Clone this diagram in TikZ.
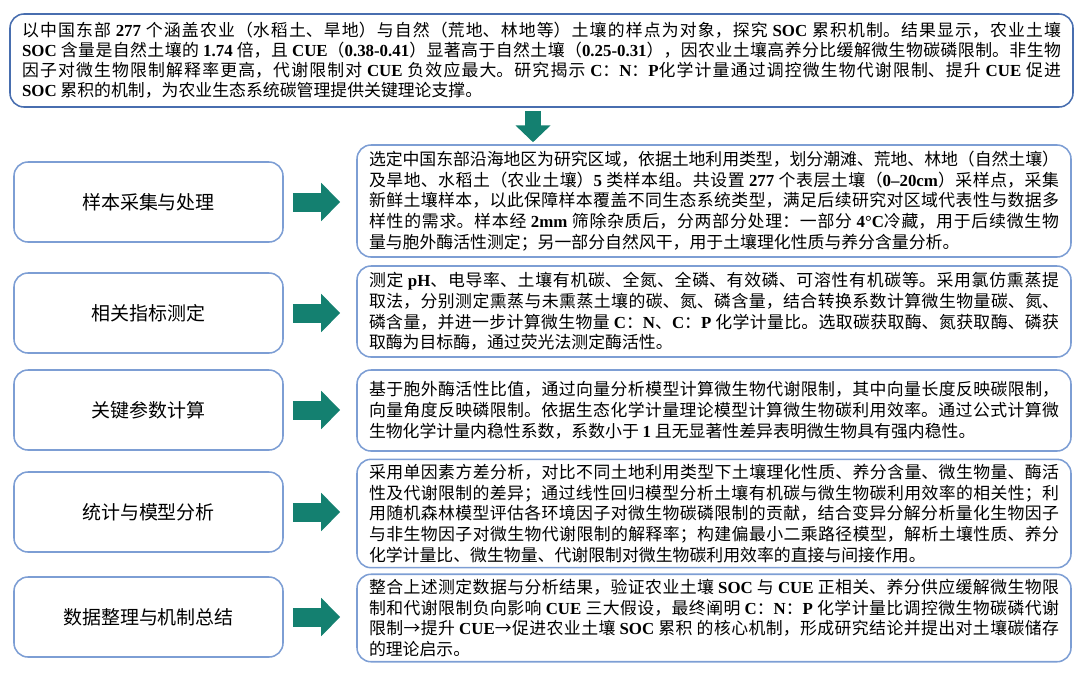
\documentclass[tikz,border=0pt]{standalone}
\usepackage{fontspec}
\setmainfont{Noto Sans CJK SC}
\newfontfamily\tnr{Liberation Serif}
\newcommand{\en}[1]{{\tnr\bfseries #1}}
\XeTeXlinebreaklocale "zh"
\XeTeXlinebreakskip=0pt plus 1.5pt minus 0.3pt
\usepackage{xcolor}
\usepackage{tikz}
\usetikzlibrary{arrows.meta, positioning}
\definecolor{topblue}{RGB}{72,110,175}
\definecolor{boxblue}{RGB}{125,158,212}
\definecolor{arrowteal}{RGB}{20,128,112}

\begin{document}
\begin{tikzpicture}[
  box/.style={draw=boxblue, line width=1.1pt, rounded corners=0.35cm, inner xsep=0.3cm,
    align=justify, font=\fontsize{12}{14.8}\selectfont},
  stepbox/.style={box, align=center, minimum width=6.725cm, minimum height=2cm,
    font=\fontsize{13.5}{16}\selectfont},
  textbox/.style={box, text width=17.25cm},
  arrow/.style={arrowteal, line width=0.475cm, -{Triangle[length=0.475cm,width=0.925cm]},
    shorten <=0.225cm, shorten >=0.4cm},
  downarrow/.style={arrowteal, line width=0.4cm, -{Triangle[length=0.42cm,width=0.85cm]},
    shorten <=0.075cm, shorten >=0.05cm}
]
\useasboundingbox (0,0) rectangle (27,-16.825);

% Nodes
\node[box, draw=topblue, text width=25.975cm, minimum height=2.325cm,
  font=\fontsize{12}{14.2}\selectfont] (top) at (13.5375,-1.5125)
  {以中国东部 \en{277} 个涵盖农业（水稻土、旱地）与自然（荒地、林地等）土壤的样点为对象，探究 \en{SOC} 累积机制。结果显示，农业土壤\linebreak
   \en{SOC} 含量是自然土壤的 \en{1.74} 倍，且 \en{CUE}（\en{0.38-0.41}）显著高于自然土壤（\en{0.25-0.31}），因农业土壤高养分比缓解微生物碳磷限制。非生物\linebreak
   因子对微生物限制解释率更高，代谢限制对 \en{CUE} 负效应最大。研究揭示 \en{C}：\en{N}：\en{P}化学计量通过调控微生物代谢限制、提升 \en{CUE} 促进\linebreak
   \en{SOC} 累积的机制，为农业生态系统碳管理提供关键理论支撑。};

\node[stepbox] (s1) at (3.7125,-5.05) {样本采集与处理};
\node[stepbox] (s2) at (3.7125,-7.825) {相关指标测定};
\node[stepbox] (s3) at (3.7125,-10.25) {关键参数计算};
\node[stepbox] (s4) at (3.7125,-12.8) {统计与模型分析};
\node[stepbox] (s5) at (3.7125,-15.425) {数据整理与机制总结};

\node[textbox, minimum height=2.8cm] (d1) at (17.85,-5.025)
  {选定中国东部沿海地区为研究区域，依据土地利用类型，划分潮滩、荒地、林地（自然土壤）\linebreak
   及旱地、水稻土（农业土壤）\en{5} 类样本组。共设置 \en{277} 个表层土壤（\en{0–20cm}）采样点，采集\linebreak
   新鲜土壤样本，以此保障样本覆盖不同生态系统类型，满足后续研究对区域代表性与数据多\linebreak
   样性的需求。样本经 \en{2mm} 筛除杂质后，分两部分处理：一部分 \en{4°C}冷藏，用于后续微生物\linebreak
   量与胞外酶活性测定；另一部分自然风干，用于土壤理化性质与养分含量分析。};
\node[textbox, minimum height=2.275cm] (d2) at (17.85,-7.7875)
  {测定 \en{pH}、电导率、土壤有机碳、全氮、全磷、有效磷、可溶性有机碳等。采用氯仿熏蒸提\linebreak
   取法，分别测定熏蒸与未熏蒸土壤的碳、氮、磷含量，结合转换系数计算微生物量碳、氮、\linebreak
   磷含量，并进一步计算微生物量 \en{C}：\en{N}、\en{C}：\en{P} 化学计量比。选取碳获取酶、氮获取酶、磷获\linebreak
   取酶为目标酶，通过荧光法测定酶活性。};
\node[textbox, minimum height=2.025cm] (d3) at (17.85,-10.2625)
  {基于胞外酶活性比值，通过向量分析模型计算微生物代谢限制，其中向量长度反映碳限制，\linebreak
   向量角度反映磷限制。依据生态化学计量理论模型计算微生物碳利用效率。通过公式计算微\linebreak
   生物化学计量内稳性系数，系数小于 \en{1} 且无显著性差异表明微生物具有强内稳性。};
\node[textbox, minimum height=2.675cm] (d4) at (17.85,-12.8375)
  {采用单因素方差分析，对比不同土地利用类型下土壤理化性质、养分含量、微生物量、酶活\linebreak
   性及代谢限制的差异；通过线性回归模型分析土壤有机碳与微生物碳利用效率的相关性；利\linebreak
   用随机森林模型评估各环境因子对微生物碳磷限制的贡献，结合变异分解分析量化生物因子\linebreak
   与非生物因子对微生物代谢限制的解释率；构建偏最小二乘路径模型，解析土壤性质、养分\linebreak
   化学计量比、微生物量、代谢限制对微生物碳利用效率的直接与间接作用。};
\node[textbox, minimum height=2.1cm] (d5) at (17.85,-15.45)
  {整合上述测定数据与分析结果，验证农业土壤 \en{SOC} 与 \en{CUE} 正相关、养分供应缓解微生物限\linebreak
   制和代谢限制负向影响 \en{CUE} 三大假设，最终阐明 \en{C}：\en{N}：\en{P} 化学计量比调控微生物碳磷代谢\linebreak
   限制→提升 \en{CUE}→促进农业土壤 \en{SOC} 累积 的核心机制，形成研究结论并提出对土壤碳储存\linebreak
   的理论启示。};

% Pointers
\draw[downarrow] ([xshift=-0.2125cm]top.south) -- ([xshift=-0.2125cm]top.south |- d1.north);
\foreach \i in {1,...,5}
  \draw[arrow] (s\i.east) -- (s\i.east -| d\i.west);
\end{tikzpicture}
\end{document}
